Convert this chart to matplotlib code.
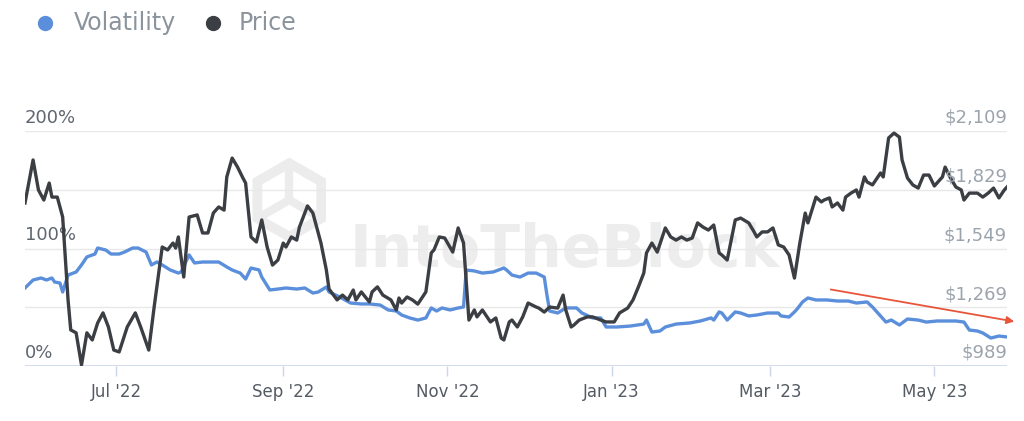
import numpy as np
import pandas as pd
import matplotlib
matplotlib.use("Agg")
import matplotlib.pyplot as plt
from matplotlib.lines import Line2D
from matplotlib.patches import FancyArrowPatch, RegularPolygon

# data (days counted from the first point)
start = pd.Timestamp("2022-05-28")

price_day = [0, 3, 5, 7, 9, 10, 12, 14, 16, 17,
             19, 21, 23, 25, 27, 29, 31, 33, 35, 38,
             41, 43, 46, 48, 51, 53, 55, 56, 57, 59,
             61, 64, 66, 68, 70, 72, 74, 75, 77, 79,
             81, 82, 84, 86, 88, 90, 92, 94, 96, 97,
             99, 101, 102, 105, 107, 110, 112, 113, 116, 118,
             120, 122, 123, 125, 128, 129, 131, 133, 136, 138,
             139, 140, 142, 144, 146, 149, 151, 152, 154, 156,
             159, 161, 163, 165, 167, 168, 170, 173, 175, 177,
             178, 180, 181, 183, 185, 187, 190, 191, 193, 195,
             198, 200, 201, 203, 204, 206, 209, 211, 214, 216,
             219, 221, 224, 226, 228, 230, 231, 233, 235, 238,
             240, 242, 244, 246, 248, 250, 252, 254, 256, 258,
             259, 261, 264, 266, 269, 271, 272, 274, 276, 278,
             280, 282, 284, 286, 288, 290, 291, 294, 296, 297,
             299, 300, 302, 304, 305, 307, 309, 310, 312, 313,
             315, 318, 319, 321, 323, 325, 326, 328, 330, 332,
             334, 336, 338, 341, 342, 344, 346, 348, 349, 351,
             354, 356, 358, 360, 362, 364, 365]
price = [1766, 1971, 1828, 1780, 1861, 1794, 1794, 1699, 1304, 1161,
         1147, 994, 1147, 1113, 1194, 1242, 1175, 1065, 1056, 1175,
         1242, 1175, 1065, 1270, 1556, 1542, 1575, 1551, 1604, 1413,
         1699, 1709, 1623, 1623, 1718, 1747, 1732, 1890, 1980, 1937,
         1885, 1861, 1604, 1580, 1685, 1556, 1470, 1494, 1575, 1556,
         1604, 1589, 1651, 1752, 1718, 1575, 1447, 1356, 1304, 1327,
         1304, 1351, 1304, 1342, 1294, 1342, 1366, 1327, 1304, 1256,
         1313, 1289, 1318, 1304, 1284, 1342, 1528, 1542, 1604, 1599,
         1532, 1647, 1575, 1208, 1256, 1223, 1256, 1199, 1218, 1122,
         1113, 1199, 1208, 1175, 1223, 1289, 1270, 1265, 1246, 1270,
         1265, 1327, 1256, 1175, 1184, 1208, 1223, 1223, 1208, 1199,
         1199, 1242, 1265, 1304, 1366, 1432, 1528, 1575, 1532, 1647,
         1604, 1589, 1604, 1589, 1599, 1671, 1651, 1637, 1661, 1528,
         1518, 1494, 1685, 1694, 1671, 1628, 1604, 1628, 1628, 1647,
         1566, 1556, 1518, 1408, 1575, 1718, 1671, 1794, 1771, 1780,
         1790, 1747, 1766, 1732, 1794, 1813, 1828, 1794, 1890, 1866,
         1852, 1909, 1890, 2076, 2099, 2080, 1971, 1885, 1852, 1837,
         1899, 1899, 1847, 1890, 1937, 1885, 1842, 1828, 1780, 1813,
         1813, 1794, 1813, 1837, 1790, 1828, 1842]

vol_day = [0, 3, 6, 8, 10, 11, 13, 14, 16, 19,
           21, 23, 26, 27, 30, 32, 35, 37, 40, 42,
           45, 47, 49, 51, 54, 57, 58, 61, 63, 66,
           72, 75, 77, 80, 82, 84, 87, 88, 91, 94,
           97, 101, 104, 107, 109, 112, 113, 117, 121, 125,
           128, 132, 135, 138, 140, 143, 146, 149, 151, 153,
           155, 158, 161, 163, 164, 167, 170, 174, 178, 179,
           181, 184, 187, 190, 193, 194, 195, 198, 201, 205,
           207, 211, 214, 216, 220, 225, 230, 231, 233, 236,
           238, 242, 247, 251, 255, 256, 258, 259, 261, 264,
           266, 269, 272, 276, 280, 281, 284, 286, 287, 289,
           291, 294, 298, 302, 306, 309, 313, 315, 317, 320,
           322, 325, 328, 332, 335, 339, 343, 346, 349, 351,
           354, 356, 359, 362, 365]
volatility = [66.4, 73.2, 74.9, 73.2, 74.9, 71.5, 70.6, 63, 77.4, 80,
              86, 92.8, 95.3, 100.4, 98.7, 95.3, 95.3, 97, 100.4, 100.4,
              97, 86, 88.5, 86, 81.7, 79.1, 80, 94.5, 87.7, 88.5,
              88.5, 84.3, 81.7, 79.1, 74, 83.4, 81.7, 75.7, 64.7, 65.5,
              66.4, 65.5, 66.4, 62.1, 63, 67.2, 63, 58.7, 53.6, 52.8,
              52.8, 51.9, 47.7, 46.8, 43.4, 40.9, 39.1, 40.9, 49.4, 46.8,
              49.4, 47.7, 49.4, 50.2, 81.7, 80.9, 79.1, 80, 83.4, 81.7,
              77.4, 75.7, 79.1, 79.1, 75.7, 60.4, 46.8, 45.1, 49.4, 49.4,
              45.1, 40.9, 40.9, 33.2, 33.2, 34, 35.7, 39.1, 28.9, 29.8,
              33.2, 35.7, 36.6, 38.3, 40.9, 39.1, 46, 45.1, 39.1, 46,
              45.1, 42.6, 43.4, 45.1, 45.1, 42.6, 41.7, 46, 48.5, 54.5,
              57.9, 56.2, 56.2, 55.3, 55.3, 53.6, 54.5, 50.2, 45.1, 37.4,
              39.1, 34.9, 40, 39.1, 37.4, 38.3, 38.3, 38.3, 37.4, 30.6,
              29.8, 28.1, 23.8, 25.5, 24.7]

vol_ticks = [0, 100, 200]
price_ticks = [989, 1269, 1549, 1829, 2109]
month_ticks = ["2022-07-01", "2022-09-01", "2022-11-01", "2023-01-01", "2023-03-01", "2023-05-01"]
month_labels = ["Jul '22", "Sep '22", "Nov '22", "Jan '23", "Mar '23", "May '23"]

price_dates = start + pd.to_timedelta(price_day, unit="D")
vol_dates = start + pd.to_timedelta(vol_day, unit="D")

BLUE = "#5b8fdb"
DARK = "#3b3e43"

fig = plt.figure(figsize=(10.24, 4.21), dpi=100)

# watermark logo, behind everything
logo = fig.add_axes([0.235, 0.42, 0.095, 0.21])
logo.set_aspect("equal")
logo.axis("off")
logo.add_patch(RegularPolygon((0, 0), 6, radius=1, orientation=0, fill=False, ec="#ececec", lw=7))
for ang in [90, 210, 330]:
    a = np.deg2rad(ang)
    logo.plot([0, 0.85 * np.cos(a)], [0, 0.85 * np.sin(a)], color="#ececec", lw=6)
logo.set_xlim(-1.2, 1.2)
logo.set_ylim(-1.2, 1.2)

ax = fig.add_axes([25 / 1024, 55 / 421, 982 / 1024, 235 / 421])
ax.set_facecolor("none")
ax2 = ax.twinx()
ax2.set_facecolor("none")

ax.text(0.55, 0.49, "IntoTheBlock", transform=ax.transAxes, ha="center", va="center",
        fontsize=42, fontweight="bold", color="#ededed", zorder=0)

ax.set_xlim(start, start + pd.Timedelta(days=365))
ax.set_ylim(0, 200)
ax2.set_ylim(989, 2109)

# gridlines
for g in [0, 50, 100, 150, 200]:
    ax.axhline(g, color="#e8e8e8", lw=1, zorder=1)
ax.axhline(0, color="#ccd6eb", lw=1.2, zorder=2)

# price drawn above volatility
ax.plot(vol_dates, volatility, color=BLUE, lw=2.4, zorder=3, solid_joinstyle="round")
ax2.plot(price_dates, price, color=DARK, lw=2.4, zorder=3, solid_joinstyle="round")

for a in (ax, ax2):
    for s in a.spines.values():
        s.set_visible(False)
ax.set_yticks([])
ax2.set_yticks([])

ax.set_xticks(pd.to_datetime(month_ticks))
ax.set_xticklabels(month_labels, fontsize=12, color="#555b63")
ax.tick_params(axis="x", length=7, width=1, color="#ccd6eb", pad=5)

for v in vol_ticks:
    ax.annotate(f"{v}%", (0, v), xycoords=("axes fraction", "data"), xytext=(0, 3),
                textcoords="offset points", ha="left", va="bottom", fontsize=13, color="#5f6670")
for p in price_ticks:
    ax2.annotate(f"${p:,}", (1, p), xycoords=("axes fraction", "data"), xytext=(0, 3),
                 textcoords="offset points", ha="right", va="bottom", fontsize=13, color="#9ba4ad")

# legend
fig.add_artist(Line2D([45 / 1024], [1 - 23 / 421], marker="o", ms=10, color=BLUE, transform=fig.transFigure))
fig.text(74 / 1024, 1 - 23 / 421, "Volatility", fontsize=17, color="#8b949c", va="center")
fig.add_artist(Line2D([213 / 1024], [1 - 23 / 421], marker="o", ms=10, color=DARK, transform=fig.transFigure))
fig.text(239 / 1024, 1 - 23 / 421, "Price", fontsize=17, color="#8b949c", va="center")

# trend arrow
arrow = FancyArrowPatch((828 / 1024, 1 - 289 / 421), (1017 / 1024, 1 - 322 / 421),
                        transform=fig.transFigure, arrowstyle="-|>", mutation_scale=11,
                        color="#e8553a", lw=1.3)
fig.add_artist(arrow)

fig.savefig("out.png", dpi=100)
